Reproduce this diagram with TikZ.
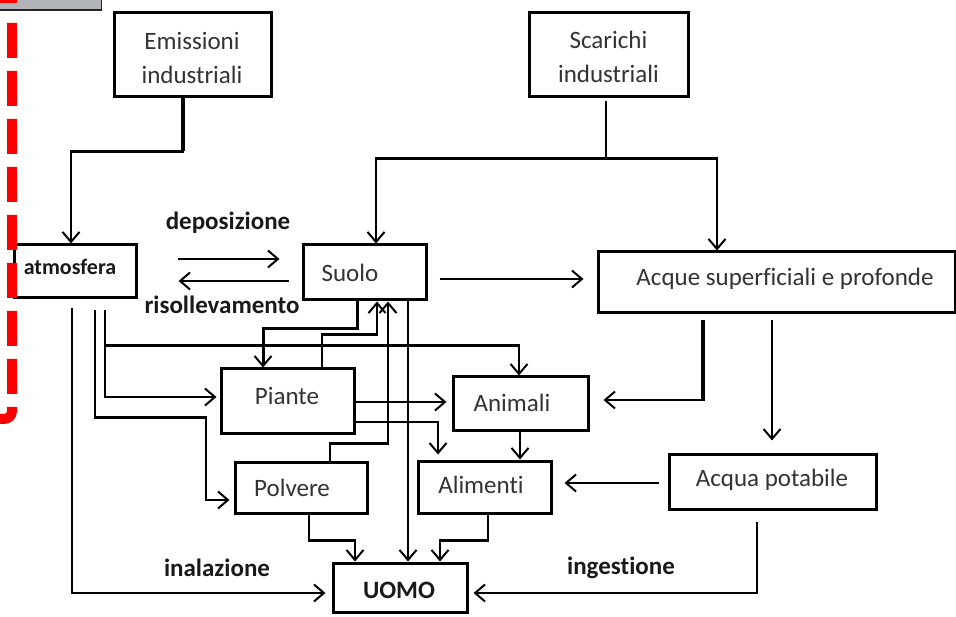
\documentclass[tikz,border=0pt]{standalone}
\usepackage{fontspec}
\setmainfont[Ligatures=NoCommon]{Carlito}
\usetikzlibrary{arrows.meta}
\definecolor{tabgrey}{RGB}{178,180,183}
\definecolor{frame}{RGB}{255,0,0}
\begin{document}
\begin{tikzpicture}[x=1pt,y=-1pt,
  box/.style={draw=black, line width=3pt, fill=white, inner sep=0pt},
  boxtext/.style={font=\fontsize{25}{34}\selectfont, text=black!80, align=center, inner sep=0pt},
  lbl/.style={font=\fontsize{25}{30}\selectfont\bfseries, text=black!90, inner sep=0pt},
  tip/.style={-{Straight Barb[length=10pt,width=17pt,line width=2pt]}},
  conn/.style={line width=2.3pt, tip},
  heavy/.style={line width=3.3pt},
]
\useasboundingbox (0,0) rectangle (956,617);

% --- boxes ---
\node[box, minimum width=157pt, minimum height=84pt,
      label={[name=emis-t, boxtext, xshift=-0.5pt, yshift=-3pt]center:Emissioni\\industriali}]
      (emis) at (192.5,55) {};
\node[box, minimum width=159pt, minimum height=84pt,
      label={[name=scar-t, boxtext, yshift=-1.5pt]center:Scarichi\\industriali}]
      (scar) at (608.5,55) {};
\node[box, minimum width=122pt, minimum height=53pt,
      label={[name=atm-t, boxtext, font=\fontsize{22}{26}\selectfont\bfseries, text=black!90, xshift=-5pt, yshift=4.5pt]center:atmosfera}]
      (atm) at (75,271.5) {};
\node[box, minimum width=123pt, minimum height=55pt,
      label={[name=suolo-t, boxtext, xshift=-14.5pt, yshift=-0.5pt]center:Suolo}]
      (suolo) at (364.5,272.5) {};
\node[box, minimum width=357pt, minimum height=61pt,
      label={[name=acque-t, boxtext, xshift=8.5pt, yshift=3.5pt]center:Acque superficiali e profonde}]
      (acque) at (776.5,282.5) {};
\node[box, minimum width=133pt, minimum height=65pt,
      label={[name=piante-t, boxtext, xshift=-0.5pt, yshift=5.5pt]center:Piante}]
      (piante) at (287.5,401.5) {};
\node[box, minimum width=135pt, minimum height=54pt,
      label={[name=animali-t, boxtext, xshift=-8.5pt, yshift=1pt]center:Animali}]
      (animali) at (520.5,404) {};
\node[box, minimum width=132pt, minimum height=51pt,
      label={[name=polvere-t, boxtext, xshift=-9pt, yshift=-0.5pt]center:Polvere}]
      (polvere) at (301,487.5) {};
\node[box, minimum width=133pt, minimum height=52pt,
      label={[name=alimenti-t, boxtext, xshift=-3.5pt, yshift=2pt]center:Alimenti}]
      (alimenti) at (484.5,487) {};
\node[box, minimum width=207pt, minimum height=55pt,
      label={[name=acquap-t, boxtext, xshift=-0.5pt, yshift=1.5pt]center:Acqua potabile}]
      (acquap) at (772.5,481.5) {};
\node[box, minimum width=134pt, minimum height=49pt,
      label={[name=uomo-t, boxtext, font=\fontsize{25}{30}\selectfont\bfseries, text=black!90, xshift=-1pt, yshift=-2.5pt]center:UOMO}]
      (uomo) at (400,587.5) {};

% --- free labels ---
\node[lbl] (dep-l) at (228,223) {deposizione};
\node[lbl] (ris-l) at (222,305) {risollevamento};
\node[lbl] (ina-l) at (217,568) {inalazione};
\node[lbl] (ing-l) at (621,568) {ingestione};

% --- emissions to atmosphere ---
\draw[heavy] ([xshift=-9.5pt]emis.south) -- ++(0,53);
\draw[conn] ([xshift=-9.5pt]emis.south) -- ++(0,53) -| ([xshift=-4pt]atm.north);

% --- industrial discharges split to soil and waters ---
\path ([xshift=-2.5pt,yshift=-3pt]scar.south) -- ++(0,57) coordinate (split);
\draw[line width=2.3pt] ([xshift=-2.5pt,yshift=-3pt]scar.south) -- (split);
\draw[conn] (split) -| ([xshift=11.5pt]suolo.north);
\draw[conn] (split) -| ([xshift=-59.5pt]acque.north);

% --- deposition / resuspension ---
\draw[conn] ([xshift=40pt,yshift=12.5pt]atm.east) -- ([xshift=-22pt,yshift=13.5pt]suolo.west);
\draw[conn] ([xshift=-13pt,yshift=-8.5pt]suolo.west) -- ([xshift=41pt,yshift=-9.5pt]atm.east);

% --- soil to waters ---
\draw[conn] ([xshift=12pt,yshift=-6.5pt]suolo.east) -- ([xshift=-13pt,yshift=3.5pt]acque.west);

% --- atmosphere outputs ---
\draw[conn, line width=2.6pt, shorten >=6pt] ([xshift=-3pt,yshift=-9pt]atm.south) |- ([yshift=-5.5pt]uomo.west);
\draw[conn, line width=2.8pt, shorten >=4pt] ([xshift=20pt,yshift=-11pt]atm.south) -- ++(0,107) -- ++(111,0) |- ([yshift=-12.5pt]polvere.west);
\draw[conn, line width=2.8pt, shorten >=3pt] ([xshift=30pt,yshift=-11pt]atm.south) |- ([yshift=4.5pt]piante.west);
\draw[conn] ([xshift=30pt,yshift=-46pt]atm.south) -| ([xshift=-1.5pt]animali.north);

% --- soil and plants exchanges ---
\draw[conn, line width=3pt] ([xshift=-7.5pt]suolo.south) -- ++(0,27) -| ([xshift=-24.5pt]piante.north);
\draw[conn] ([xshift=34.5pt]piante.north) -- ++(0,-33) -| ([xshift=12.5pt]suolo.south);
\draw[conn] ([xshift=29pt]polvere.north) -- ++(0,-17) -| ([xshift=23.5pt]suolo.south);
\draw[conn] ([xshift=43.5pt]suolo.south) -- ([xshift=8pt]uomo.north);

% --- food chain ---
\draw[conn, shorten >=5pt] ([yshift=-0.5pt]piante.east) -- ([yshift=2pt]animali.west);
\draw[conn, shorten >=5pt] ([yshift=-20.5pt]piante.east) -| ([xshift=-46.5pt]alimenti.north);
\draw[conn] ([xshift=-0.5pt]animali.south) -- ([xshift=35.5pt]alimenti.north);

% --- waters ---
\draw[heavy] ([xshift=-73.5pt,yshift=-6pt]acque.south) -- ++(0,81);
\draw[conn, shorten >=14pt] ([xshift=-73.5pt,yshift=-6pt]acque.south) |- ([yshift=4pt]animali.east);
\draw[conn, line width=2.6pt, shorten >=12pt] ([xshift=-4.5pt,yshift=-6pt]acque.south) -- ([xshift=-0.5pt]acquap.north);
\draw[conn, shorten >=12pt] ([xshift=-9pt,yshift=-1.5pt]acquap.west) -- ([yshift=4pt]alimenti.east);
\draw[conn, shorten >=5pt] ([xshift=-15.5pt,yshift=-11pt]acquap.south) |- ([yshift=-5.5pt]uomo.east);

% --- into man ---
\draw[conn] ([xshift=8pt]polvere.south) -- ++(0,26) -| ([xshift=-45pt]uomo.north);
\draw[conn] ([xshift=3.5pt]alimenti.south) -- ++(0,26) -| ([xshift=40pt]uomo.north);

% --- red dashed frame edge and grey tab ---
\draw[frame, line width=10pt, dash pattern=on 35pt off 13pt, rounded corners=8pt]
  (12,-25) -- (12,419) -- (-30,419);
\node[fill=tabgrey, draw=black!85, line width=1.5pt, minimum width=120pt, minimum height=20pt,
      inner sep=0pt, anchor=south east] (tab) at (102,11) {};
\fill[frame] (-2,-2) rectangle (17,3);
\end{tikzpicture}
\end{document}
